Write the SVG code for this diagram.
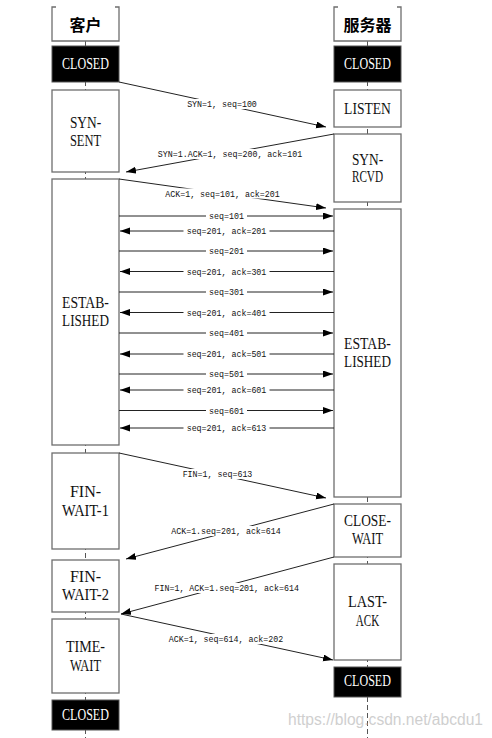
<svg xmlns="http://www.w3.org/2000/svg" width="492" height="738" viewBox="0 0 492 738">
<style>
.box{fill:#fff;stroke:#6e6e6e;stroke-width:1.3}
.dark{fill:#000;stroke:#555;stroke-width:1}
.st{font-family:"Liberation Serif",serif;font-size:16px;fill:#111;text-anchor:middle}
.wt{fill:#fff}
.hd{font-family:"Noto Sans CJK SC",sans-serif;font-weight:bold;font-size:16px;text-anchor:middle;fill:#000}
.life{stroke:#555;stroke-width:1;stroke-dasharray:5 3;fill:none}
.ln{stroke:#222;stroke-width:1;fill:none}
.lb{font-family:"Liberation Mono",monospace;font-size:8.3px;text-anchor:middle;fill:#111}
.bg{fill:#fff}
.wm{font-family:"Liberation Sans",sans-serif;font-size:16px;fill:#cfcfcf}
</style>
<defs>
<marker id="ah" markerUnits="userSpaceOnUse" markerWidth="11" markerHeight="8" refX="10" refY="3.5" orient="auto">
<path d="M0,0 L10,3.5 L0,7 z" fill="#000"/>
</marker>
</defs>
<rect width="492" height="738" fill="#fff"/>
<g id="lifelines">
<line class="life" x1="85.5" y1="41" x2="85.5" y2="738"/>
<line class="life" x1="367.5" y1="41" x2="367.5" y2="738"/>
</g>
<g id="client-header"><path class="box" d="M56,7 H52 V41 H119 V7 H115"/><text class="hd" x="85.5" y="31">客户</text></g>
<g id="client-closed-1"><rect class="dark" x="52" y="46" width="67" height="36"/><text class="st wt" x="85.5" y="69.3" textLength="46.8" lengthAdjust="spacingAndGlyphs">CLOSED</text></g>
<g id="client-syn-sent"><rect class="box" x="52" y="90" width="67" height="82"/><text class="st" x="85.5" y="127.8" textLength="31.2" lengthAdjust="spacingAndGlyphs">SYN-</text><text class="st" x="85.5" y="145.8" textLength="31.2" lengthAdjust="spacingAndGlyphs">SENT</text></g>
<g id="client-established"><rect class="box" x="52" y="179" width="67" height="266"/><text class="st" x="85.5" y="308.3" textLength="46.8" lengthAdjust="spacingAndGlyphs">ESTAB-</text><text class="st" x="85.5" y="326.3" textLength="46.8" lengthAdjust="spacingAndGlyphs">LISHED</text></g>
<g id="client-fin-wait-1"><rect class="box" x="52" y="453" width="67" height="96"/><text class="st" x="85.5" y="497" textLength="31.2" lengthAdjust="spacingAndGlyphs">FIN-</text><text class="st" x="85.5" y="516" textLength="46.8" lengthAdjust="spacingAndGlyphs">WAIT-1</text></g>
<g id="client-fin-wait-2"><rect class="box" x="52" y="560" width="67" height="52"/><text class="st" x="85.5" y="582" textLength="31.2" lengthAdjust="spacingAndGlyphs">FIN-</text><text class="st" x="85.5" y="600.3" textLength="46.8" lengthAdjust="spacingAndGlyphs">WAIT-2</text></g>
<g id="client-time-wait"><rect class="box" x="52" y="619" width="67" height="74"/><text class="st" x="85.5" y="652" textLength="39" lengthAdjust="spacingAndGlyphs">TIME-</text><text class="st" x="85.5" y="671" textLength="31.2" lengthAdjust="spacingAndGlyphs">WAIT</text></g>
<g id="client-closed-2"><rect class="dark" x="52" y="700" width="67" height="30"/><text class="st wt" x="85.5" y="720.3" textLength="46.8" lengthAdjust="spacingAndGlyphs">CLOSED</text></g>
<g id="server-header"><path class="box" d="M338,7 H334 V41 H401 V7 H397"/><text class="hd" x="367.5" y="31">服务器</text></g>
<g id="server-closed-1"><rect class="dark" x="334" y="46" width="67" height="36"/><text class="st wt" x="367.5" y="69.3" textLength="46.8" lengthAdjust="spacingAndGlyphs">CLOSED</text></g>
<g id="server-listen"><rect class="box" x="334" y="90" width="67" height="37"/><text class="st" x="367.5" y="113.8" textLength="46.8" lengthAdjust="spacingAndGlyphs">LISTEN</text></g>
<g id="server-syn-rcvd"><rect class="box" x="334" y="134" width="67" height="68"/><text class="st" x="367.5" y="165.3" textLength="31.2" lengthAdjust="spacingAndGlyphs">SYN-</text><text class="st" x="367.5" y="182" textLength="31.2" lengthAdjust="spacingAndGlyphs">RCVD</text></g>
<g id="server-established"><rect class="box" x="334" y="209" width="67" height="288"/><text class="st" x="367.5" y="349.3" textLength="46.8" lengthAdjust="spacingAndGlyphs">ESTAB-</text><text class="st" x="367.5" y="367.3" textLength="46.8" lengthAdjust="spacingAndGlyphs">LISHED</text></g>
<g id="server-close-wait"><rect class="box" x="334" y="504" width="67" height="53"/><text class="st" x="367.5" y="526" textLength="46.8" lengthAdjust="spacingAndGlyphs">CLOSE-</text><text class="st" x="367.5" y="544.3" textLength="31.2" lengthAdjust="spacingAndGlyphs">WAIT</text></g>
<g id="server-last-ack"><rect class="box" x="334" y="564" width="67" height="96"/><text class="st" x="367.5" y="607" textLength="39" lengthAdjust="spacingAndGlyphs">LAST-</text><text class="st" x="367.5" y="626" textLength="23.4" lengthAdjust="spacingAndGlyphs">ACK</text></g>
<g id="server-closed-2"><rect class="dark" x="334" y="667" width="67" height="30"/><text class="st wt" x="367.5" y="686.3" textLength="46.8" lengthAdjust="spacingAndGlyphs">CLOSED</text></g>
<g id="connectors">
<path class="ln" d="M119,82 L326,127" marker-end="url(#ah)"/>
<rect class="bg" x="184" y="99" width="76" height="10"/><text class="lb" x="222" y="107">SYN=1, seq=100</text>
<path class="ln" d="M334,134 L126,172" marker-end="url(#ah)"/>
<rect class="bg" x="155" y="149" width="150" height="10"/><text class="lb" x="230" y="157">SYN=1.ACK=1, seq=200, ack=101</text>
<path class="ln" d="M119,179 L326,208" marker-end="url(#ah)"/>
<rect class="bg" x="162" y="188.5" width="121" height="10"/><text class="lb" x="222.5" y="196.5">ACK=1, seq=101, ack=201</text>

<path class="ln" d="M119,216 H333" marker-end="url(#ah)"/>
<rect class="bg" x="206" y="211" width="41" height="10"/><text class="lb" x="226.5" y="219">seq=101</text>
<path class="ln" d="M334,231 H120" marker-end="url(#ah)"/>
<rect class="bg" x="183.5" y="226" width="86" height="10"/><text class="lb" x="226.5" y="234">seq=201, ack=201</text>
<path class="ln" d="M119,251 H333" marker-end="url(#ah)"/>
<rect class="bg" x="206" y="246" width="41" height="10"/><text class="lb" x="226.5" y="254">seq=201</text>
<path class="ln" d="M334,271.5 H120" marker-end="url(#ah)"/>
<rect class="bg" x="183.5" y="266.5" width="86" height="10"/><text class="lb" x="226.5" y="274.5">seq=201, ack=301</text>
<path class="ln" d="M119,292 H333" marker-end="url(#ah)"/>
<rect class="bg" x="206" y="287" width="41" height="10"/><text class="lb" x="226.5" y="295">seq=301</text>
<path class="ln" d="M334,312.5 H120" marker-end="url(#ah)"/>
<rect class="bg" x="183.5" y="307.5" width="86" height="10"/><text class="lb" x="226.5" y="315.5">seq=201, ack=401</text>
<path class="ln" d="M119,333 H333" marker-end="url(#ah)"/>
<rect class="bg" x="206" y="328" width="41" height="10"/><text class="lb" x="226.5" y="336">seq=401</text>
<path class="ln" d="M334,354 H120" marker-end="url(#ah)"/>
<rect class="bg" x="183.5" y="349" width="86" height="10"/><text class="lb" x="226.5" y="357">seq=201, ack=501</text>
<path class="ln" d="M119,374 H333" marker-end="url(#ah)"/>
<rect class="bg" x="206" y="369" width="41" height="10"/><text class="lb" x="226.5" y="377">seq=501</text>
<path class="ln" d="M334,390 H120" marker-end="url(#ah)"/>
<rect class="bg" x="183.5" y="385" width="86" height="10"/><text class="lb" x="226.5" y="393">seq=201, ack=601</text>
<path class="ln" d="M119,410.5 H333" marker-end="url(#ah)"/>
<rect class="bg" x="206" y="405.5" width="41" height="10"/><text class="lb" x="226.5" y="413.5">seq=601</text>
<path class="ln" d="M334,428 H120" marker-end="url(#ah)"/>
<rect class="bg" x="183.5" y="423" width="86" height="10"/><text class="lb" x="226.5" y="431">seq=201, ack=613</text>

<path class="ln" d="M119,453 L326,498" marker-end="url(#ah)"/>
<rect class="bg" x="179.5" y="469" width="76" height="10"/><text class="lb" x="217.5" y="477">FIN=1, seq=613</text>
<path class="ln" d="M334,504 L126,559" marker-end="url(#ah)"/>
<rect class="bg" x="168" y="526" width="116" height="10"/><text class="lb" x="226" y="534">ACK=1.seq=201, ack=614</text>
<path class="ln" d="M334,557 L121,614" marker-end="url(#ah)"/>
<rect class="bg" x="151.7" y="583" width="150" height="10"/><text class="lb" x="226.7" y="591">FIN=1, ACK=1.seq=201, ack=614</text>
<path class="ln" d="M121,614 L333,660" marker-end="url(#ah)"/>
<rect class="bg" x="165.5" y="634" width="121" height="10"/><text class="lb" x="226" y="642">ACK=1, seq=614, ack=202</text>
</g>
<text class="wm" x="288" y="725" textLength="195" lengthAdjust="spacingAndGlyphs">https://blog.csdn.net/abcdu1</text>
</svg>
